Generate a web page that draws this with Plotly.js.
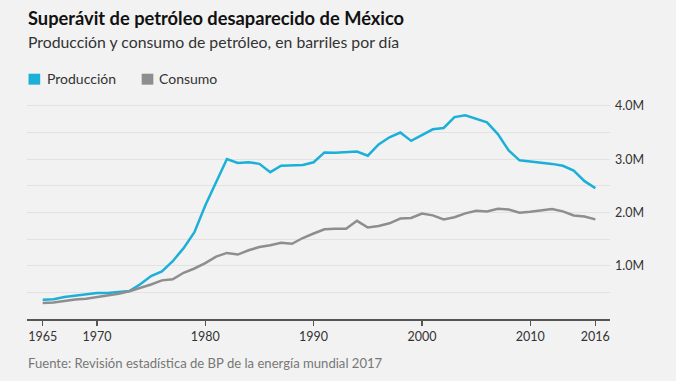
<!DOCTYPE html>
<html>
<head>
<meta charset="utf-8">
<script src="https://cdn.plot.ly/plotly-3.0.1.min.js"></script>
<style>
  html, body { margin: 0; padding: 0; background: #f2f2f2; }
  #chart { width: 676px; height: 381px; }
</style>
</head>
<body>
<div id="chart"></div>
<script>
const years = [1965,1966,1967,1968,1969,1970,1971,1972,1973,1974,1975,1976,1977,1978,1979,
  1980,1981,1982,1983,1984,1985,1986,1987,1988,1989,1990,1991,1992,1993,1994,1995,1996,1997,
  1998,1999,2000,2001,2002,2003,2004,2005,2006,2007,2008,2009,2010,2011,2012,2013,2014,2015,2016];

// thousand barrels per day
const produccion = [362,370,411,439,461,487,486,506,525,653,806,894,1085,1330,1630,
  2129,2553,3001,2930,2942,2912,2756,2876,2880,2892,2941,3126,3119,3132,3142,3065,3277,3410,
  3499,3343,3456,3560,3585,3789,3824,3760,3689,3471,3165,2978,2959,2940,2911,2875,2784,2587,2456];

const consumo = [302,308,337,368,382,414,432,475,520,582,647,725,745,868,948,
  1048,1170,1240,1209,1290,1350,1386,1431,1412,1520,1604,1684,1693,1692,1842,1717,1747,1796,
  1885,1896,1978,1945,1868,1909,1983,2030,2019,2067,2054,1995,2014,2043,2063,2020,1943,1923,1869];

const seriesNames = ['Producción', 'Consumo'];
const xTickVals = [1965,1970,1980,1990,2000,2010,2016];
const xTickText = ['1965','1970','1980','1990','2000','2010','2016'];
const yTickVals = [1000000,2000000,3000000,4000000];
const yTickText = ['1.0M','2.0M','3.0M','4.0M'];

const BLUE = '#1cb0d9';
const GRAY = '#8e8e8e';
const FONT = 'Lato, "Noto Sans", sans-serif';

const toBarrels = a => a.map(v => v * 1000);

const traces = [
  { x: years, y: toBarrels(produccion), type: 'scatter', mode: 'lines',
    line: { color: BLUE, width: 2.5 }, name: seriesNames[0] },
  { x: years, y: toBarrels(consumo), type: 'scatter', mode: 'lines',
    line: { color: GRAY, width: 2.5 }, name: seriesNames[1] }
];

// legend drawn with shapes + annotations (paper coords)
const legendY = 1.098;
const shapes = [
  { type: 'rect', xref: 'paper', yref: 'paper', x0: 0.0026, x1: 0.0226, y0: 1.07, y1: 1.12,
    fillcolor: BLUE, line: { width: 0 } },
  { type: 'rect', xref: 'paper', yref: 'paper', x0: 0.1967, x1: 0.2167, y0: 1.07, y1: 1.12,
    fillcolor: GRAY, line: { width: 0 } }
];

const layout = {
  width: 676, height: 381,
  paper_bgcolor: '#f2f2f2', plot_bgcolor: '#f2f2f2',
  margin: { l: 27, r: 66, t: 100, b: 62 },
  font: { family: FONT, color: '#333' },
  showlegend: false,
  title: {
    text: '<b>Superávit de petróleo desaparecido de México</b>',
    font: { family: FONT, size: 18.3, color: '#111' },
    x: 0, xref: 'paper', xanchor: 'left', y: 0.952, yanchor: 'middle', yref: 'container',
    pad: { l: 1 }
  },
  shapes: shapes,
  annotations: [
    { text: 'Producción y consumo de petróleo, en barriles por día',
      xref: 'paper', yref: 'paper', x: -0.002, y: 1.265, xanchor: 'left', yanchor: 'middle',
      showarrow: false, font: { family: FONT, size: 15.8, color: '#333' } },
    { text: seriesNames[0],
      xref: 'paper', yref: 'paper', x: 0.0309, y: legendY, xanchor: 'left', yanchor: 'middle',
      showarrow: false, font: { family: FONT, size: 14, color: '#333' } },
    { text: seriesNames[1],
      xref: 'paper', yref: 'paper', x: 0.223, y: legendY, xanchor: 'left', yanchor: 'middle',
      showarrow: false, font: { family: FONT, size: 14, color: '#333' } },
    { text: 'Fuente: Revisión estadística de BP de la energía mundial 2017',
      xref: 'paper', yref: 'paper', x: -0.002, y: -0.201, xanchor: 'left', yanchor: 'middle',
      showarrow: false, font: { family: FONT, size: 13.1, color: '#777' } }
  ],
  xaxis: {
    range: [1963.55, 2017.35],
    tickvals: xTickVals, ticktext: xTickText,
    showgrid: false, zeroline: false,
    showline: true, linecolor: '#555', linewidth: 1.5,
    ticks: 'outside', ticklen: 5, tickcolor: '#555', tickwidth: 1.5,
    tickfont: { family: FONT, size: 12.5, color: '#333' },
    fixedrange: true
  },
  yaxis: {
    range: [0, 4110000],
    side: 'right',
    tickvals: yTickVals, ticktext: yTickText,
    showgrid: true, gridcolor: '#e2e2e2', gridwidth: 1,
    minor: { dtick: 500000, tick0: 0, showgrid: true, gridcolor: '#e2e2e2', gridwidth: 1 },
    zeroline: false, showline: false, ticks: '',
    ticklabelstandoff: 4,
    tickfont: { family: FONT, size: 12.5, color: '#333' },
    fixedrange: true
  }
};

Plotly.newPlot('chart', traces, layout, { displayModeBar: false, staticPlot: true });
</script>
</body>
</html>
